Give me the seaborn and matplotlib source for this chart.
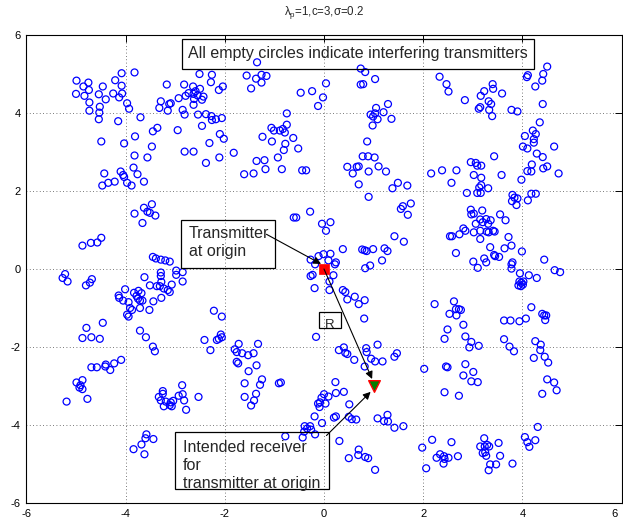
import matplotlib
matplotlib.use("Agg")
import matplotlib.pyplot as plt
import matplotlib.transforms as mtrans
import seaborn as sns
import pandas as pd
from matplotlib.patches import Rectangle

# ---- interfering transmitters (grouped by region) ----
region_nw = [(-3.82,5.04),(-4.08,5.02),(-4.99,4.83),(-4.75,4.78),(-4.85,4.68),(-4.21,4.84),(-4.08,4.70),(-4.46,4.68),
             (-4.74,4.59),(-5.00,4.49),(-4.83,4.44),(-4.54,4.48),(-4.25,4.50),(-4.07,4.50),(-4.13,4.40),(-4.40,4.35),
             (-4.73,4.27),(-3.97,4.25),(-3.93,4.11),(-4.52,4.16),(-4.73,4.06),(-4.53,4.01),(-4.54,3.84),(-4.15,3.79),
             (-3.70,3.89),(-3.17,4.73),(-2.82,4.73),(-2.51,5.00),(-2.26,4.98),(-2.28,4.79),(-2.04,4.68),(-2.12,4.59),
             (-2.64,4.68),(-2.50,4.62),(-2.73,4.51),(-2.63,4.49),(-2.59,4.56),(-2.55,4.45),(-2.43,4.42),(-2.46,4.34),
             (-2.62,4.36),(-2.63,4.21),(-2.79,4.44),(-2.93,4.38),(-3.29,4.30),(-3.09,4.25),(-3.12,4.23),(-3.32,4.13),
             (-3.15,4.06),(-2.85,4.08),(-2.81,3.96),(-2.54,3.96),(-2.38,3.97),(-2.27,3.92),(-2.26,3.82),(-2.18,3.84),
             (-2.06,3.87),(-2.46,3.67),(-2.95,3.56),(-3.36,3.62),(-3.45,3.53),(-3.81,3.40),(-4.49,3.27),(-4.03,3.22),
             (-3.47,3.14),(-2.31,3.23),(-2.10,3.46),(-2.02,3.34)]
region_n = [(-1.35,5.30),(-1.56,4.96),(-1.37,4.88),(-1.26,4.98),(-1.16,4.95),(-1.26,4.78),(-1.47,4.63),(-0.47,4.52),
            (-0.24,4.56),(0.04,4.76),(-0.02,4.40),(-0.12,4.18),(-0.75,3.99),(-0.75,3.70),(-1.06,3.62),(-1.01,3.55),
            (-0.89,3.55),(-0.83,3.59),(-0.79,3.50),(-1.24,3.39),(-1.05,3.27),(-0.62,3.36),(-0.78,3.21),(-0.52,3.09),
            (-0.81,3.05),(0.74,5.14),(0.83,5.05),(1.03,4.87),(0.74,4.73),(0.79,4.74),(1.29,4.23),(1.05,4.13),
            (0.94,3.96),(1.03,3.99),(1.20,4.02),(0.99,3.91),(1.08,3.84),(1.36,3.85),(0.98,3.68),(0.87,3.27)]
region_ne = [(2.33,4.93),(2.47,4.74),(2.51,4.55),(2.84,4.33),(3.40,4.74),(3.41,4.62),(3.23,4.56),(3.16,4.44),
             (3.59,4.50),(3.32,4.30),(3.37,4.23),(3.15,4.15),(3.12,4.11),(3.33,4.08),(3.39,3.92),(3.78,4.08),
             (3.90,4.04),(4.50,5.19),(4.42,5.00),(4.11,4.97),(4.09,4.92),(4.40,4.83),(4.26,4.68),(4.41,4.23),
             (4.35,3.76),(4.21,3.55),(4.27,3.46),(4.05,3.41),(4.23,3.33),(4.23,3.24),(4.01,3.14),(4.10,3.09),
             (4.64,3.14)]
region_w = [(-3.82,2.91),(-3.56,2.86),(-2.81,3.01),(-2.63,3.01),(-2.38,2.72),(-2.11,2.86),(-4.43,2.45),(-4.10,2.50),
            (-4.05,2.41),(-4.03,2.36),(-3.84,2.60),(-3.76,2.43),(-4.47,2.14),(-4.35,2.21),(-4.22,2.24),(-3.97,2.21),
            (-3.88,2.14),(-3.63,2.24),(-3.47,1.66),(-3.63,1.57),(-3.82,1.42),(-3.56,1.47),(-3.51,1.44),(-3.40,1.37),
            (-3.66,1.18),(-4.87,0.60),(-4.70,0.67),(-4.57,0.68),(-4.49,0.80),(-3.45,0.31),(-3.39,0.27),(-3.29,0.24),
            (-3.20,0.22),(-3.11,0.19)]
region_c = [(-1.82,2.98),(-1.61,2.43),(-1.42,2.45),(-1.36,2.77),(-1.20,2.79),(-1.18,2.56),(-0.93,2.86),(-0.85,2.56),
            (-0.44,2.53),(-0.36,2.53),(0.78,2.89),(0.89,2.89),(1.02,2.86),(0.47,2.62),(0.66,2.62),(0.70,2.63),
            (0.58,2.45),(0.90,2.50),(1.10,2.63),(1.25,2.50),(0.70,2.17),(1.49,2.21),(1.38,2.07),(1.68,2.14),
            (0.90,1.85),(1.75,1.68),(1.59,1.61),(1.55,1.54),(1.69,1.39),(-0.28,1.47),(-0.61,1.32),(-0.56,1.32),
            (-0.04,1.16),(0.13,1.20),(0.04,0.98),(1.42,0.84),(1.61,0.70),(0.38,0.51),(0.77,0.50),(0.82,0.48),
            (0.86,0.46),(0.99,0.51),(1.22,0.53),(1.28,0.46),(1.17,0.22),(0.93,0.09),(0.83,0.02),(-0.27,0.24),
            (-0.11,0.33),(-0.01,0.38),(0.13,0.39),(0.09,0.22),(0.24,0.17),(0.22,0.12),(-0.18,0.12)]
region_e = [(3.43,2.89),(4.29,2.96),(4.41,2.87),(2.16,2.45),(2.38,2.53),(2.67,2.53),(2.96,2.74),(3.06,2.72),
            (3.09,2.65),(3.17,2.65),(3.02,2.41),(3.17,2.34),(3.58,2.41),(2.57,2.21),(3.17,2.15),(3.13,2.09),
            (3.31,2.07),(2.88,1.95),(3.09,1.95),(3.16,1.95),(3.98,2.29),(4.10,2.51),(4.18,2.50),(4.19,2.68),
            (4.42,2.58),(4.50,2.63),(4.73,2.45),(3.80,1.90),(3.84,1.83),(3.90,1.81),(3.79,1.74),(3.88,1.64),
            (4.11,1.76),(4.18,1.93),(4.27,1.93),(2.96,1.52),(3.19,1.50),(2.97,1.40),(3.02,1.42),(3.55,1.40),
            (3.27,1.28),(3.36,1.25),(3.15,1.27),(3.20,1.20),(3.31,1.16),(3.66,1.25),(3.06,1.16),(2.81,1.04),
            (2.85,0.98),(3.15,0.98),(3.28,0.96),(3.02,0.94),(3.32,0.94),(3.41,0.98),(3.44,0.96),(2.58,0.84),
            (2.54,0.84),(2.73,0.89),(3.15,0.77),(3.72,0.82),(3.35,0.56),(3.64,0.53),(3.78,0.60),(2.66,0.41),
            (3.43,0.36),(3.45,0.33),(3.53,0.31),(3.99,0.45),(3.23,0.27),(3.01,0.19),(3.27,0.17),(3.80,0.17),
            (3.78,0.12),(4.44,0.24)]
region_sw = [(-5.22,-0.13),(-5.27,-0.23),(-5.17,-0.32),(-4.80,-0.42),(-4.72,-0.35),(-4.68,-0.26),(-4.01,-0.52),
             (-4.14,-0.68),(-4.13,-0.74),(-4.05,-0.81),(-3.94,-0.85),(-3.83,-0.61),(-3.74,-0.56),(-3.68,-0.62),
             (-3.78,-0.69),(-3.75,-0.76),(-3.71,-0.81),(-3.66,-0.81),(-3.91,-1.00),(-3.87,-1.05),(-3.97,-1.17),
             (-3.94,-1.22),(-3.71,-1.00),(-3.52,-1.05),(-3.62,-0.21),(-3.51,-0.42),(-3.37,-0.44),(-3.29,-0.09),
             (-3.29,-0.18),(-3.28,-0.33),(-3.31,-0.44),(-3.23,-0.50),(-3.15,-0.54),(-3.11,-0.59),(-3.07,-0.40),
             (-2.98,-0.15),(-2.98,-0.04),(-2.85,-0.08),(-2.85,-0.32),(-3.44,-0.83),(-3.28,-0.74),(-4.46,-1.38),
             (-4.79,-1.51),(-4.87,-1.77),(-4.69,-1.75),(-4.52,-1.79),(-3.71,-1.58),(-3.59,-1.75),(-3.45,-1.99),
             (-3.41,-2.11),(-4.09,-2.33),(-4.23,-2.42),(-4.40,-2.45),(-4.41,-2.50),(-4.58,-2.52),(-4.69,-2.52),
             (-4.31,-2.59),(-4.87,-2.85),(-4.99,-2.91),(-4.91,-2.98),(-2.86,-2.98),(-2.22,-1.07),(-2.06,-1.22),
             (-2.41,-1.82),(-2.16,-1.82),(-2.12,-1.79),(-2.08,-1.68),(-2.06,-1.75),(-2.29,-2.08)]
region_s = [(-0.27,-0.18),(-0.23,-0.15),(-0.19,-0.49),(0.19,-0.16),(0.11,-0.32),(0.11,-0.54),(0.38,-0.54),
            (0.43,-0.59),(0.47,-0.78),(0.62,-0.71),(0.70,-0.90),(0.82,-0.80),(0.81,-1.27),(-0.16,-1.74),
            (-1.72,-1.92),(-1.80,-2.06),(-1.76,-2.13),(-1.65,-2.16),(-1.53,-2.21),(-1.42,-2.16),(-1.33,-1.92),
            (-1.76,-2.38),(-1.73,-2.42),(-1.36,-2.47),(-1.52,-2.62),(-1.25,-2.83),(-1.60,-2.93),(-1.29,-2.97),
            (-0.91,-2.93),(-0.87,-2.91),(0.23,-2.90),(0.30,-2.08),(0.40,-2.01),(0.43,-2.15),(0.47,-2.18),
            (0.61,-2.33),(0.85,-2.03),(0.86,-2.13),(1.08,-1.94),(0.95,-2.30),(1.03,-2.37),(1.18,-2.37),
            (1.42,-2.25),(1.47,-2.16),(0.82,-2.50)]
region_se = [(3.10,0.03),(3.78,0.01),(3.95,-0.11),(4.13,-0.16),(4.29,-0.23),(4.65,-0.03),(4.76,-0.08),(3.94,-0.32),
             (3.98,-0.35),(4.01,-0.40),(3.97,-0.44),(3.92,-0.42),(4.02,-0.32),(2.23,-0.90),(2.62,-0.83),(2.66,-1.03),
             (2.72,-1.03),(2.76,-1.05),(2.53,-1.15),(2.67,-1.19),(2.81,-1.43),(2.49,-1.55),(2.43,-1.79),(2.85,-1.73),
             (2.97,-1.87),(2.93,-2.01),(3.12,-1.97),(3.63,-1.80),(3.74,-1.99),(3.83,-2.11),(3.63,-1.32),(3.76,-1.32),
             (3.94,-1.34),(4.07,-1.27),(4.18,-0.98),(4.40,-1.15),(4.44,-1.19),(4.48,-1.19),(4.46,-1.31),(4.26,-1.85),
             (4.37,-1.94),(4.36,-2.08),(4.23,-2.28),(4.45,-2.25),(4.52,-2.40),(2.02,-2.56),(2.46,-2.50),(2.49,-2.52),
             (2.85,-2.44),(3.01,-2.64),(2.81,-2.73),(3.10,-2.90),(2.97,-2.88),(4.50,-2.83),(4.64,-2.91)]
region_ssw = [(-4.93,-3.04),(-4.87,-3.08),(-5.19,-3.40),(-4.77,-3.33),(-3.25,-3.13),(-3.25,-3.20),(-3.33,-3.28),
              (-3.29,-3.37),(-3.19,-3.40),(-3.23,-3.52),(-3.09,-3.42),(-3.04,-3.38),(-3.11,-3.49),(-3.07,-3.52),
              (-2.93,-3.25),(-2.85,-3.21),(-2.82,-3.37),(-2.78,-3.61),(-2.53,-3.28),(-3.58,-4.24),(-3.60,-4.34),
              (-3.44,-4.36),(-3.68,-4.50),(-3.84,-4.62),(-3.62,-4.75)]
region_ss = [(-1.37,-3.20),(-1.60,-3.28),(-1.41,-3.37),(-1.47,-3.50),(0.00,-3.21),(0.09,-3.27),(-0.05,-3.30),
             (0.24,-3.18),(0.40,-3.15),(-0.12,-3.45),(-0.08,-3.42),(-0.09,-3.54),(0.03,-3.45),(0.51,-3.47),
             (-0.19,-3.78),(-0.04,-3.95),(0.24,-3.78),(0.20,-3.81),(0.50,-3.79),(0.56,-3.85),(0.65,-3.86),
             (-0.39,-4.03),(-0.34,-4.09),(-0.28,-4.03),(-0.26,-4.12),(-0.40,-4.17),(-0.43,-4.32),(-0.18,-4.24),
             (-0.78,-4.29),(1.08,-3.83),(1.28,-3.74),(1.21,-3.90),(1.29,-3.91),(1.42,-4.07),(1.60,-4.03),
             (0.31,-4.41),(0.70,-4.63),(0.69,-4.77),(0.83,-4.82),(0.89,-4.85),(0.50,-4.85),(1.03,-5.15),(1.98,-4.58)]
region_sse = [(4.69,-3.11),(2.43,-3.16),(2.72,-3.25),(4.40,-3.20),(4.31,-4.05),(4.05,-4.31),(4.10,-4.44),(4.26,-4.39),
              (4.14,-4.56),(2.18,-4.38),(2.57,-4.44),(2.06,-5.11),(2.27,-4.84),(2.34,-4.75),(2.42,-4.80),(2.41,-4.99),
              (2.43,-4.87),(2.51,-4.84),(2.70,-4.80),(3.23,-4.34),(3.15,-4.55),(3.24,-4.55),(3.33,-4.55),(3.29,-4.51),
              (3.52,-4.46),(3.20,-4.72),(3.25,-4.70),(3.27,-4.79),(3.55,-4.79),(3.35,-5.01),(3.47,-5.01),(3.32,-5.16),
              (3.80,-4.99)]

transmitter_xy = (0.0, 0.0)
receiver_xy = (1.0, -3.0)
x_ticks = [-6, -4, -2, 0, 2, 4, 6]
y_ticks = [-6, -4, -2, 0, 2, 4, 6]
title_text = r"$\lambda_p$=1,c=3,$\sigma$=0.2"
note_top = "All empty circles indicate interfering transmitters"
note_tx = ["Transmitter", "at origin"]
note_rx = ["Intended receiver", "for", "transmitter at origin"]

# ---------------------------------------------------------------------------
sns.set_style("white")
plt.rcParams['font.family'] = ['Liberation Sans', 'DejaVu Sans']
plt.rcParams['axes.unicode_minus'] = False
plt.rcParams['mathtext.default'] = 'regular'

pts = (region_nw + region_n + region_ne + region_w + region_c + region_e +
       region_sw + region_s + region_se + region_ssw + region_ss + region_sse)
df = pd.DataFrame(pts, columns=["x", "y"])

W, H = 623, 523
fig = plt.figure(figsize=(W / 100, H / 100), dpi=100)
ax = fig.add_axes([26.4 / W, 20 / H, 595.2 / W, 468 / H])

sns.scatterplot(data=df, x="x", y="y", ax=ax, marker="o", s=25,
                facecolor="none", edgecolor="#0000ff", color="#0000ff",
                linewidth=0.9, legend=False, zorder=3)

tx = pd.DataFrame([transmitter_xy], columns=["x", "y"])
rx = pd.DataFrame([receiver_xy], columns=["x", "y"])
sns.scatterplot(data=tx, x="x", y="y", ax=ax, marker="s", s=55,
                color="#ff0000", edgecolor="#ff0000", linewidth=0.5, legend=False, zorder=6)
sns.scatterplot(data=rx, x="x", y="y", ax=ax, marker="v", s=70,
                color="#008000", edgecolor="#ff0000", linewidth=1.0, legend=False, zorder=6)

ax.set_xlim(-6, 6)
ax.set_ylim(-6, 6)
ax.set_xticks(x_ticks)
ax.set_yticks(y_ticks)
ax.set_xlabel("")
ax.set_ylabel("")
ax.tick_params(direction="in", length=5, width=0.7, top=True, right=True,
               labelsize=8, colors="black", pad=4)
ax.grid(True, linestyle=(0, (1, 3)), color="0.3", linewidth=0.6)
for sp in ax.spines.values():
    sp.set_color("black")
    sp.set_linewidth(0.8)

# keep the last x tick label inside the picture, as in the reference
fig.canvas.draw()
last_lab = ax.get_xticklabels()[-1]
last_lab.set_transform(last_lab.get_transform() +
                       mtrans.ScaledTranslation(-7 / 100, 0, fig.dpi_scale_trans))

ax.text(0.5, 1.0 + 22 / 468, title_text, transform=ax.transAxes,
        ha="center", va="center", fontsize=8.3)

# annotation boxes
box_kw = dict(fill=False, ec="black", lw=0.9, zorder=7)
ax.add_patch(Rectangle((-2.86, 5.14), 7.09, 0.77, **box_kw))
ax.text(0.69, 5.41, note_top, ha="center", va="baseline", fontsize=11.5, zorder=8)

ax.add_patch(Rectangle((-2.88, 0.03), 1.90, 1.22, **box_kw))
ax.text(-2.73, 0.79, note_tx[0], ha="left", va="baseline", fontsize=11.5, zorder=8)
ax.text(-2.73, 0.325, note_tx[1], ha="left", va="baseline", fontsize=11.5, zorder=8)

ax.add_patch(Rectangle((-3.00, -5.64), 3.10, 1.46, **box_kw))
ax.text(-2.85, -4.68, note_rx[0], ha="left", va="baseline", fontsize=11.5, zorder=8)
ax.text(-2.85, -5.15, note_rx[1], ha="left", va="baseline", fontsize=11.5, zorder=8)
ax.text(-2.85, -5.62, note_rx[2], ha="left", va="baseline", fontsize=11.5, zorder=8)

ax.add_patch(Rectangle((-0.11, -1.51), 0.45, 0.41, **box_kw))
ax.text(0.11, -1.51, "R", ha="center", va="baseline", fontsize=9.5, zorder=8)

arrow_kw = dict(arrowstyle="-|>", color="black", lw=0.8, mutation_scale=11,
                shrinkA=0, shrinkB=0)
ax.annotate("", xy=(-0.06, 0.13), xytext=(-1.16, 0.89), arrowprops=arrow_kw, zorder=9)
ax.annotate("", xy=(0.97, -2.82), xytext=(0.0, 0.0), arrowprops=arrow_kw, zorder=9)
ax.annotate("", xy=(0.94, -3.15), xytext=(0.05, -4.27), arrowprops=arrow_kw, zorder=9)

fig.savefig("out.png", dpi=100)
